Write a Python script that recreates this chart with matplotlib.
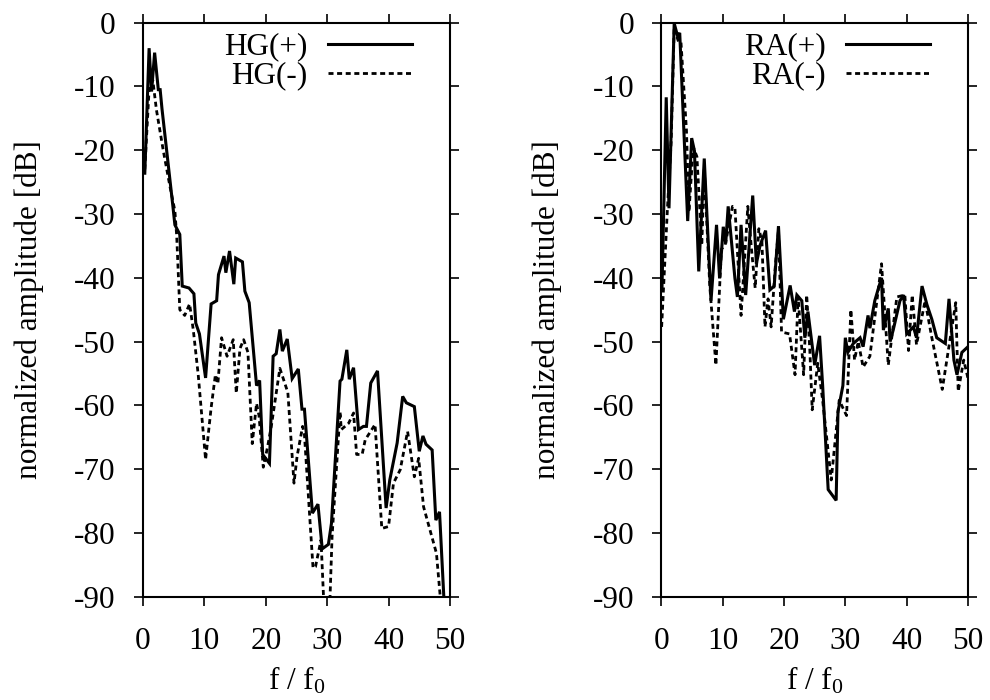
import matplotlib
matplotlib.use('Agg')
import matplotlib.pyplot as plt

plt.rcParams['font.family'] = ['Liberation Serif', 'DejaVu Serif']
plt.rcParams['mathtext.fontset'] = 'custom'
plt.rcParams['mathtext.rm'] = 'Liberation Serif'
plt.rcParams['mathtext.default'] = 'regular'
plt.rcParams['axes.unicode_minus'] = False

# HG spectra (left panel)
hg_plus_f = [0.3, 1.0, 1.4, 1.9, 2.5, 2.8, 3.1, 4.9, 5.2, 6.0, 6.4, 7.5, 8.3, 8.6, 9.2,
             10.2, 11.1, 12.0, 12.3, 13.2, 13.5, 14.1, 14.8, 15.1, 16.2, 16.6, 17.3,
             18.5, 19.0, 19.5, 20.6, 21.2, 21.7, 22.3, 22.7, 23.5, 24.3, 25.3, 25.9,
             26.3, 27.6, 28.5, 29.2, 30.2, 30.7, 32.1, 32.4, 33.2, 33.6, 34.3, 35.1,
             35.9, 36.4, 37.1, 38.2, 39.6, 40.2, 41.4, 42.3, 42.9, 44.2, 45.0, 45.6,
             46.1, 47.1, 47.7, 48.3, 49.0, 49.3]
hg_plus_db = [-23.6, -4.0, -10.8, -4.7, -10.5, -10.5, -13.5, -29.0, -31.7, -33.2, -41.3,
              -41.6, -42.5, -47.1, -48.8, -55.7, -44.1, -43.6, -39.5, -36.6, -39.2, -35.8,
              -41.0, -36.9, -37.5, -42.1, -43.9, -56.9, -56.1, -67.7, -69.1, -52.3, -51.9,
              -48.1, -51.5, -49.6, -55.8, -54.3, -60.6, -60.6, -76.9, -75.5, -82.5, -81.8,
              -78.5, -56.2, -55.9, -51.3, -55.9, -54.1, -63.8, -63.3, -63.3, -56.5, -54.6,
              -76.1, -71.7, -65.9, -58.6, -59.6, -60.2, -67.2, -64.8, -66.1, -67.0, -78.0,
              -76.7, -90.0, -95.0]

hg_minus_f = [0.3, 1.0, 1.6, 2.2, 3.3, 4.4, 5.2, 5.5, 6.0, 6.8, 7.6, 8.2, 9.0, 10.2, 11.1,
              11.8, 12.2, 12.8, 13.7, 14.7, 15.2, 15.8, 16.4, 17.1, 17.8, 18.5, 18.9,
              19.6, 20.3, 20.9, 22.3, 23.6, 24.6, 25.1, 26.0, 26.3, 27.7, 28.1, 29.0,
              29.5, 30.4, 30.8, 32.1, 32.3, 33.5, 34.3, 34.8, 35.7, 36.2, 37.8, 38.9,
              40.0, 40.8, 41.9, 43.1, 44.2, 44.9, 45.7, 47.8, 48.6]
hg_minus_db = [-23.0, -10.5, -9.0, -13.7, -20.0, -25.7, -29.5, -33.5, -45.0, -45.9, -44.1,
               -48.2, -55.2, -68.5, -60.4, -55.2, -56.6, -49.4, -52.3, -49.7, -58.1, -51.1,
               -49.7, -51.7, -66.0, -59.7, -61.6, -69.7, -66.5, -63.3, -54.2, -58.0, -72.2,
               -68.0, -63.3, -64.6, -85.5, -85.3, -81.1, -92.0, -92.0, -80.6, -61.0, -63.8,
               -62.8, -61.2, -67.7, -67.7, -65.4, -63.0, -79.3, -79.0, -72.2, -70.1, -64.1,
               -71.2, -68.3, -75.9, -83.2, -92.0]

# RA spectra (right panel)
ra_plus_f = [0.1, 0.8, 1.25, 2.1, 2.65, 3.0, 4.3, 4.95, 5.4, 6.1, 7.0, 8.1, 9.0, 9.5, 10.1,
             10.5, 10.9, 12.0, 12.4, 13.0, 13.75, 14.9, 15.5, 16.1, 17.0, 17.7, 18.4,
             19.1, 19.9, 21.0, 21.7, 22.1, 22.9, 23.4, 23.9, 25.0, 25.8, 26.3, 27.2,
             28.5, 28.8, 29.6, 30.0, 30.4, 31.3, 32.4, 32.9, 33.7, 34.0, 34.8, 35.9,
             36.2, 37.0, 37.3, 37.8, 38.9, 39.5, 40.0, 41.1, 41.6, 42.5, 43.3, 44.1,
             44.9, 46.3, 46.9, 47.7, 48.2, 49.0, 50.0]
ra_plus_db = [-42.0, -11.7, -29.1, -0.1, -2.1, -1.6, -31.1, -18.1, -20.1, -39.0, -21.3,
              -43.6, -31.7, -40.1, -32.0, -34.6, -28.8, -40.1, -43.0, -31.7, -42.7, -27.1,
              -37.8, -34.9, -32.6, -41.9, -41.3, -31.9, -46.5, -41.2, -45.3, -42.7, -43.6,
              -49.4, -45.3, -53.7, -49.1, -56.9, -73.2, -74.9, -61.0, -56.9, -49.4, -51.7,
              -50.3, -49.4, -50.8, -45.9, -47.9, -43.6, -40.0, -48.2, -44.8, -50.0, -48.2,
              -43.6, -42.7, -48.8, -47.7, -49.4, -41.3, -44.2, -46.5, -49.4, -50.3, -43.3,
              -52.9, -55.2, -51.7, -50.8]

ra_minus_f = [0.05, 1.0, 1.6, 2.1, 2.8, 3.2, 4.1, 4.5, 5.2, 5.8, 6.6, 7.0, 7.9, 8.9, 9.8,
              10.4, 11.6, 12.0, 13.0, 13.75, 14.1, 14.7, 15.3, 15.9, 16.4, 16.9, 17.4,
              17.9, 18.6, 19.1, 19.6, 20.9, 21.8, 22.3, 23.2, 23.7, 24.2, 24.6, 25.5,
              26.3, 27.7, 29.0, 30.2, 30.9, 31.5, 32.1, 32.9, 34.0, 35.9, 37.0, 38.4,
              39.7, 40.3, 40.9, 41.6, 43.0, 44.1, 45.8, 48.0, 48.4, 49.3, 50.0]
ra_minus_db = [-47.7, -29.1, -18.7, -0.7, -3.0, -3.0, -16.9, -29.7, -19.5, -21.0, -34.9,
               -22.7, -41.3, -53.7, -35.5, -34.9, -28.8, -29.0, -45.9, -34.3, -28.8, -35.5,
               -41.6, -32.3, -34.3, -47.7, -43.3, -47.7, -38.0, -32.5, -48.5, -48.8, -55.2,
               -43.0, -55.2, -42.7, -51.1, -60.7, -53.4, -59.2, -71.7, -59.2, -61.6, -45.0,
               -52.9, -50.0, -54.0, -52.3, -37.8, -53.7, -43.0, -42.7, -51.4, -42.7, -50.5,
               -43.6, -49.4, -57.5, -43.9, -57.8, -52.9, -55.8]

xticks = [0, 10, 20, 30, 40, 50]
yticks = [0, -10, -20, -30, -40, -50, -60, -70, -80, -90]

FS = 22.5
fig = plt.figure(figsize=(9.9, 7.0), dpi=100)
ax1 = fig.add_axes([0.1444, 0.1476, 0.3101, 0.8200])
ax2 = fig.add_axes([0.6680, 0.1476, 0.3098, 0.8200])

panels = [
    (ax1, hg_plus_f, hg_plus_db, hg_minus_f, hg_minus_db, 'HG(+)', 'HG(-)'),
    (ax2, ra_plus_f, ra_plus_db, ra_minus_f, ra_minus_db, 'RA(+)', 'RA(-)'),
]

for ax, fp, dp, fm, dm, lp, lm in panels:
    ax.plot(fp, dp, color='black', lw=2.2, label=lp, solid_joinstyle='miter')
    ax.plot(fm, dm, color='black', lw=2.0, dashes=(1.8, 1.3), label=lm)
    ax.set_xlim(0, 50)
    ax.set_ylim(-90, 0)
    ax.set_xticks(xticks)
    ax.set_yticks(yticks)
    ax.tick_params(direction='out', length=6.5, width=1.2, labelsize=FS,
                   top=True, right=True, pad=13)
    ax.tick_params(axis='x', pad=15)
    for sp in ax.spines.values():
        sp.set_linewidth(1.5)
    ax.set_xlabel('f / f$_0$', fontsize=FS, labelpad=7)
    ax.set_ylabel('normalized amplitude [dB]', fontsize=FS, labelpad=22)
    ax.legend(loc='upper right', bbox_to_anchor=(0.876, 0.983), frameon=False,
              markerfirst=False, fontsize=FS, handlelength=2.7, handletextpad=0.64,
              labelspacing=0.0, borderpad=0, borderaxespad=0)

fig.savefig('out.png', dpi=100)
